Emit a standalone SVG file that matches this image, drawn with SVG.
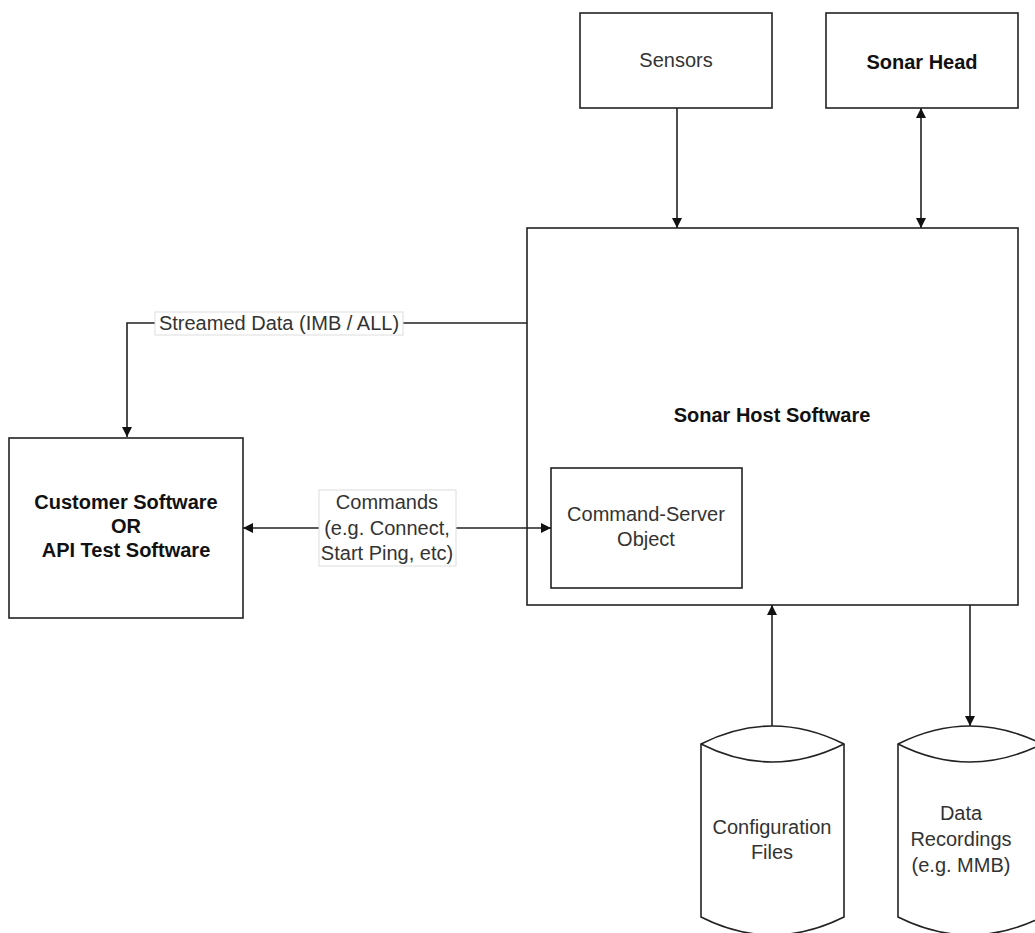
<svg xmlns="http://www.w3.org/2000/svg" width="1035" height="933" viewBox="0 0 1035 933">
<defs>
<style>
.box{fill:#fff;stroke:#222;stroke-width:1.6}
.ln{fill:none;stroke:#222;stroke-width:1.6}
.t{font-family:"Liberation Sans",Arial,sans-serif;font-size:20px;fill:#333;text-anchor:middle;dominant-baseline:central}
.b{font-weight:bold;fill:#111}
.lbl{fill:#fff;stroke:#ddd;stroke-width:1}
</style>
<marker id="ah" viewBox="0 0 10 10" refX="10" refY="5" markerWidth="10" markerHeight="10" markerUnits="userSpaceOnUse" orient="auto-start-reverse">
<path d="M0,0 L10,5 L0,10 z" fill="#111"/>
</marker>
</defs>
<rect width="1035" height="933" fill="#fff"/>
<g id="sensors"><rect class="box" x="580" y="13" width="192" height="95"/><text class="t" x="676" y="60">Sensors</text></g>
<g id="sonar-head"><rect class="box" x="826" y="13" width="192" height="95"/><text class="t b" x="922" y="62">Sonar Head</text></g>
<g id="host"><rect class="box" x="527" y="228" width="491" height="377"/><text class="t b" x="772" y="415">Sonar Host Software</text></g>
<g id="command-server"><rect class="box" x="551" y="468" width="191" height="120"/><text class="t" x="646" y="514">Command-Server</text><text class="t" x="646" y="539">Object</text></g>
<g id="customer"><rect class="box" x="9" y="438" width="234" height="180"/><text class="t b" x="126" y="502">Customer Software</text><text class="t b" x="126" y="526">OR</text><text class="t b" x="126" y="550">API Test Software</text></g>
<g id="config"><path class="box" d="M701,744 Q772,708 844,744 L844,917 Q772,953 701,917 Z"/><path class="ln" d="M701,744 Q772,780 844,744"/><text class="t" x="772" y="827">Configuration</text><text class="t" x="772" y="852">Files</text></g>
<g id="recordings"><path class="box" d="M898,744 Q970,708 1042,744 L1042,917 Q970,953 898,917 Z"/><path class="ln" d="M898,744 Q970,780 1042,744"/><text class="t" x="961" y="813">Data</text><text class="t" x="961" y="839">Recordings</text><text class="t" x="961" y="865">(e.g. MMB)</text></g>
<g id="connectors">
<path class="ln" d="M677,108 V228" marker-end="url(#ah)"/>
<path class="ln" d="M921,108 V228" marker-start="url(#ah)" marker-end="url(#ah)"/>
<path class="ln" d="M527,323 H127 V437" marker-end="url(#ah)"/>
<path class="ln" d="M243,528 H551" marker-start="url(#ah)" marker-end="url(#ah)"/>
<path class="ln" d="M772,726 V605" marker-end="url(#ah)"/>
<path class="ln" d="M970,605 V726" marker-end="url(#ah)"/>
<rect class="lbl" x="155" y="312" width="248" height="23"/>
<text class="t" x="279" y="323">Streamed Data (IMB / ALL)</text>
<rect class="lbl" x="319" y="490" width="137" height="76"/>
<text class="t" x="387" y="502">Commands</text>
<text class="t" x="387" y="528">(e.g. Connect,</text>
<text class="t" x="387" y="553">Start Ping, etc)</text>
</g>
</svg>
